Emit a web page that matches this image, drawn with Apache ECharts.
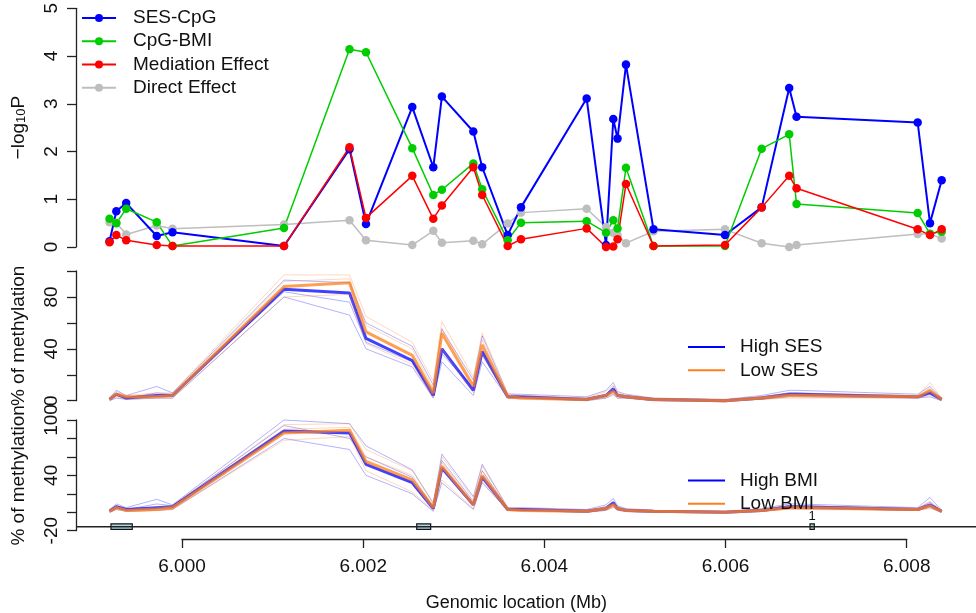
<!DOCTYPE html>
<html>
<head>
<meta charset="utf-8">
<script src="https://cdn.jsdelivr.net/npm/echarts@6/dist/echarts.min.js"></script>
<style>html,body{margin:0;padding:0;background:#fff}#c{width:976px;height:613px}</style>
</head>
<body>
<div id="c"></div>
<script>
// ---------------- data ----------------
const positions = [5.999200, 5.999275, 5.999384, 5.999721, 5.999895, 6.001126, 6.001849, 6.002031, 6.002542, 6.002774, 6.002869, 6.003216, 6.003314, 6.003595, 6.003742, 6.004467, 6.004681, 6.004761, 6.004808, 6.004901, 6.005205, 6.005994, 6.006399, 6.006703, 6.006784, 6.008121, 6.008257, 6.008386];

const sesCpG    = [0.12, 0.75, 0.92, 0.23, 0.31, 0.02, 2.05, 0.48, 2.93, 1.67, 3.15, 2.42, 1.67, 0.25, 0.83, 3.11, 0.04, 2.68, 2.27, 3.82, 0.37, 0.25, 0.83, 3.33, 2.73, 2.61, 0.50, 1.40];
const cpgBMI    = [0.59, 0.50, 0.80, 0.52, 0.02, 0.40, 4.14, 4.08, 2.07, 1.09, 1.20, 1.75, 1.21, 0.14, 0.51, 0.54, 0.30, 0.56, 0.39, 1.66, 0.02, 0.02, 2.06, 2.36, 0.90, 0.71, 0.28, 0.32];
const mediation = [0.10, 0.25, 0.14, 0.04, 0.02, 0.02, 2.09, 0.61, 1.49, 0.59, 0.87, 1.67, 1.09, 0.02, 0.16, 0.39, 0.00, 0.01, 0.16, 1.32, 0.02, 0.04, 0.83, 1.49, 1.23, 0.37, 0.25, 0.37];
const direct    = [0.52, 0.51, 0.26, 0.45, 0.38, 0.47, 0.56, 0.14, 0.04, 0.34, 0.09, 0.13, 0.06, 0.49, 0.72, 0.80, 0.42, 0.30, 0.25, 0.08, 0.33, 0.37, 0.08, 0.00, 0.04, 0.27, 0.27, 0.18];

// % methylation, representative profiles (central / low / high / alternative)
const highSES_central = [1, 5, 2, 4, 4, 86, 83, 48, 31, 4, 40, 8, 38, 3, 3, 1, 4, 9, 4, 3, 1, 0, 2, 5, 5, 3, 6, 1];
const highSES_low     = [0, 2, 1, 2, 2, 80, 66, 40, 26, 2, 30, 4, 30, 2, 2, 0, 2, 5, 2, 2, 0, 0, 1, 3, 3, 2, 3, 0];
const highSES_high    = [2, 8, 4, 11, 6, 93, 91, 60, 42, 12, 55, 16, 50, 5, 5, 3, 8, 14, 7, 5, 2, 1, 4, 8, 8, 5, 11, 2];
const highSES_alt     = [1, 4, 2, 6, 5, 84, 76, 45, 30, 7, 36, 10, 35, 3, 3, 2, 5, 11, 5, 4, 1, 0, 3, 6, 6, 3, 8, 1];

const lowSES_central  = [1, 5, 3, 3, 4, 88, 91, 53, 35, 6, 52, 11, 43, 3, 2, 1, 4, 7, 4, 3, 1, 0, 2, 4, 4, 3, 8, 1];
const lowSES_low      = [0, 3, 1, 2, 2, 80, 82, 44, 28, 3, 40, 6, 36, 2, 1, 0, 2, 4, 2, 2, 0, 0, 1, 2, 2, 2, 4, 0];
const lowSES_high     = [2, 7, 4, 6, 6, 97, 97, 65, 45, 15, 61, 18, 52, 6, 4, 2, 7, 12, 6, 4, 2, 1, 3, 6, 6, 4, 14, 2];
const lowSES_alt      = [1, 6, 2, 4, 5, 92, 94, 58, 40, 9, 56, 13, 47, 4, 3, 1, 5, 9, 5, 3, 1, 0, 2, 5, 5, 3, 10, 1];

const highBMI_central = [1, 6, 3, 5, 6, 88, 86, 52, 32, 4, 48, 8, 38, 3, 3, 1, 4, 10, 4, 2, 1, 0, 2, 6, 6, 3, 8, 1];
const highBMI_low     = [0, 3, 1, 2, 3, 80, 68, 40, 20, 1, 32, 3, 32, 2, 2, 0, 2, 6, 2, 1, 0, 0, 1, 4, 4, 2, 5, 0];
const highBMI_high    = [3, 9, 5, 14, 8, 100, 96, 72, 46, 10, 63, 17, 52, 5, 5, 3, 8, 15, 7, 4, 2, 1, 4, 9, 9, 5, 16, 2];
const highBMI_alt     = [2, 7, 3, 9, 7, 94, 80, 60, 38, 6, 56, 12, 45, 4, 4, 2, 6, 12, 5, 3, 1, 0, 3, 7, 7, 4, 11, 1];

const lowBMI_central  = [1, 5, 2, 3, 5, 86, 89, 55, 35, 5, 50, 8, 40, 3, 2, 1, 4, 8, 4, 2, 1, 0, 2, 5, 5, 3, 7, 1];
const lowBMI_low      = [0, 3, 1, 2, 3, 78, 82, 45, 22, 2, 35, 4, 33, 2, 1, 0, 2, 5, 2, 1, 0, 0, 1, 3, 3, 2, 4, 0];
const lowBMI_high     = [2, 7, 3, 5, 7, 95, 96, 68, 45, 9, 60, 15, 50, 5, 4, 2, 6, 11, 6, 3, 2, 1, 3, 7, 7, 4, 12, 2];
const lowBMI_alt      = [1, 6, 2, 4, 6, 90, 92, 60, 40, 6, 54, 11, 45, 4, 3, 1, 5, 9, 5, 2, 1, 0, 2, 6, 6, 3, 9, 1];

// plotted genomic region and gene track
const regionRange = [5.9988298, 6.0087650];
const geneStart  = [5.999216, 6.002591, 6.006933];
const geneEnd    = [5.999451, 6.002745, 6.006980];
const geneLabels = ['', '', '1'];

// axis ticks
const xTicks = [6.000, 6.002, 6.004, 6.006, 6.008];
const pTickLabels = [0, 1, 2, 3, 4, 5];
const midTickLabels = [0, 40, 80];
const botTickLabels = [-20, 40, 100];

// ---------------- chart ----------------
const FONT = 'Liberation Sans, Arial, Helvetica, sans-serif';
const BLUE = '#0000FF', ORANGE = '#FF7F1A';
const pair = arr => arr.map((v, i) => [positions[i], v]);

const grids = [
  { left: 76, right: 0, top: 5, height: 242 },
  { left: 76, right: 0, top: 271, height: 129.7 },
  { left: 76, right: 0, top: 420, height: 110.7 },
  { left: 182, right: 69.3, top: 530, height: 11 }   // genomic axis
];

const axisLineStyle = { color: '#222', width: 1.3 };

function yAxisCfg(gi, min, max, interval, shown, name) {
  return {
    type: 'value', gridIndex: gi, min, max, interval, position: 'left',
    axisLine: { show: true, onZero: false, lineStyle: axisLineStyle },
    axisTick: { show: true, length: 9, lineStyle: axisLineStyle },
    splitLine: { show: false },
    axisLabel: {
      rotate: 90, margin: 15, fontSize: 19, color: '#111', fontFamily: FONT,
      formatter: v => shown.some(s => Math.abs(s - v) < 1e-9) ? String(v) : ''
    },
    name, nameLocation: 'middle', nameGap: 48,
    nameTextStyle: {
      fontSize: 19, color: '#111', fontFamily: FONT,
      rich: {
        a: { fontSize: 19, lineHeight: 24, color: '#111', fontFamily: FONT, verticalAlign: 'bottom' },
        b: { fontSize: 13, lineHeight: 14, color: '#111', fontFamily: FONT, verticalAlign: 'bottom' }
      }
    }
  };
}

const xAxes = [0, 1, 2].map(gi => ({
  type: 'value', gridIndex: gi, min: regionRange[0], max: regionRange[1], show: false
}));
xAxes.push({
  type: 'value', gridIndex: 3, position: 'bottom',
  min: xTicks[0], max: xTicks[xTicks.length - 1], interval: 0.002,
  axisLine: { show: true, onZero: false, lineStyle: axisLineStyle },
  axisTick: { show: true, length: 9, lineStyle: axisLineStyle },
  splitLine: { show: false },
  axisLabel: { fontSize: 19, color: '#111', fontFamily: FONT, margin: 18, formatter: v => v.toFixed(3) },
  name: 'Genomic location (Mb)', nameLocation: 'middle', nameGap: 55,
  nameTextStyle: { fontSize: 18, color: '#111', fontFamily: FONT, padding: [0, 56, 0, 0] }
});

const yAxes = [
  yAxisCfg(0, 0, 5, 1, pTickLabels, '{a|−log}{b|10}{a|P}'),
  yAxisCfg(1, 0, 100, 20, midTickLabels, '% of methylation'),
  yAxisCfg(2, -20, 100, 20, botTickLabels, '% of methylation'),
  { type: 'value', gridIndex: 3, min: 0, max: 1, show: false }
];

const series = [];

// top panel (draw order: gray, blue, green, red)
const pSeries = [
  { name: 'Direct Effect', data: direct, color: '#BEBEBE', w: 1.5 },
  { name: 'SES-CpG', data: sesCpG, color: BLUE, w: 2 },
  { name: 'CpG-BMI', data: cpgBMI, color: '#00CD00', w: 1.5 },
  { name: 'Mediation Effect', data: mediation, color: '#FF0000', w: 1.5 }
];
pSeries.forEach(s => series.push({
  type: 'line', name: s.name, xAxisIndex: 0, yAxisIndex: 0, data: pair(s.data),
  symbol: 'circle', symbolSize: 8.5, clip: false, animation: false,
  lineStyle: { color: s.color, width: s.w }, itemStyle: { color: s.color }
}));

function methGroup(gi, name, color, central, others) {
  others.forEach(arr => series.push({
    type: 'line', name, xAxisIndex: gi, yAxisIndex: gi, data: pair(arr),
    symbol: 'none', clip: false, animation: false, silent: true,
    lineStyle: { color, width: 1, opacity: 0.3 }, itemStyle: { color }
  }));
  series.push({
    type: 'line', name, xAxisIndex: gi, yAxisIndex: gi, data: pair(central),
    symbol: 'none', clip: false, animation: false, silent: true,
    lineStyle: { color, width: 3, opacity: 0.75 }, itemStyle: { color }
  });
}
methGroup(1, 'High SES', BLUE, highSES_central, [highSES_low, highSES_high, highSES_alt]);
methGroup(1, 'Low SES', ORANGE, lowSES_central, [lowSES_low, lowSES_high, lowSES_alt]);
methGroup(2, 'High BMI', BLUE, highBMI_central, [highBMI_low, highBMI_high, highBMI_alt]);
methGroup(2, 'Low BMI', ORANGE, lowBMI_central, [lowBMI_low, lowBMI_high, lowBMI_alt]);

// gene track
const TRACK_Y = -15.6, GENE_TOP = -12.7, GENE_BOT = -18.6;
series.push({
  type: 'line', xAxisIndex: 2, yAxisIndex: 2, clip: false, animation: false, silent: true,
  data: regionRange.map(x => [x, TRACK_Y]), symbol: 'none',
  lineStyle: { color: '#222', width: 1.5 }
});
series.push({
  type: 'custom', xAxisIndex: 2, yAxisIndex: 2, clip: false, animation: false, silent: true,
  data: geneStart.map((s, i) => [s, geneEnd[i]]),
  renderItem: (params, api) => {
    const a = api.coord([api.value(0), GENE_TOP]);
    const b = api.coord([api.value(1), GENE_BOT]);
    const children = [{
      type: 'rect',
      shape: { x: a[0], y: a[1], width: b[0] - a[0], height: b[1] - a[1] },
      style: { fill: '#ADD8E6', stroke: '#111', lineWidth: 1.2 }
    }];
    const lab = geneLabels[params.dataIndex];
    if (lab) children.push({
      type: 'text',
      style: { text: lab, x: (a[0] + b[0]) / 2, y: a[1] - 1, align: 'center', verticalAlign: 'bottom',
               fontSize: 13, fill: '#111', fontFamily: FONT }
    });
    return { type: 'group', children };
  }
});

const legendText = { fontSize: 19, lineHeight: 19, color: '#111', fontFamily: FONT };
const legends = [
  {
    orient: 'vertical', left: 81, top: 8.4, padding: 0, itemWidth: 34, itemHeight: 10, itemGap: 4.3,
    data: ['SES-CpG', 'CpG-BMI', 'Mediation Effect', 'Direct Effect'],
    textStyle: Object.assign({ padding: [0, 0, 0, 12] }, legendText), selectedMode: false
  },
  {
    orient: 'vertical', left: 688, top: 337.5, padding: 0, itemWidth: 37, itemHeight: 2, itemGap: 4.3, icon: 'rect',
    data: [
      { name: 'High SES', itemStyle: { color: BLUE, opacity: 1 } },
      { name: 'Low SES', itemStyle: { color: ORANGE, opacity: 1 } }
    ],
    textStyle: Object.assign({ padding: [0, 0, 0, 10] }, legendText), selectedMode: false
  },
  {
    orient: 'vertical', left: 688, top: 471, padding: 0, itemWidth: 37, itemHeight: 2, itemGap: 4.3, icon: 'rect',
    data: [
      { name: 'High BMI', itemStyle: { color: BLUE, opacity: 1 } },
      { name: 'Low BMI', itemStyle: { color: ORANGE, opacity: 1 } }
    ],
    textStyle: Object.assign({ padding: [0, 0, 0, 10] }, legendText), selectedMode: false
  }
];

const chart = echarts.init(document.getElementById('c'), null, { renderer: 'canvas' });
chart.setOption({
  animation: false,
  backgroundColor: '#fff',
  textStyle: { fontFamily: FONT },
  grid: grids,
  xAxis: xAxes,
  yAxis: yAxes,
  legend: legends,
  series
});
</script>
</body>
</html>
